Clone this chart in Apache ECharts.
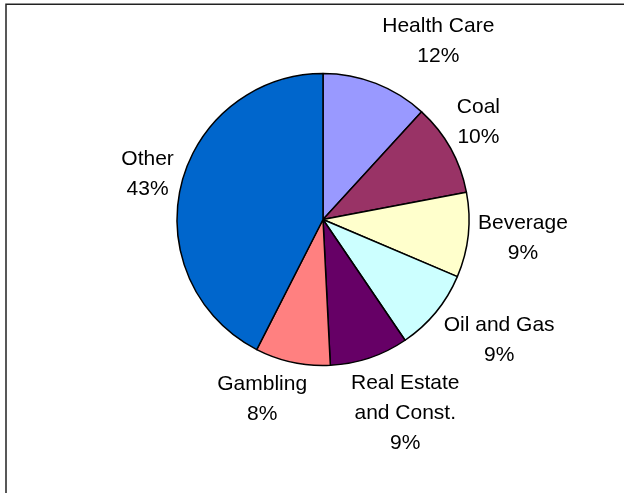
<!DOCTYPE html>
<html>
<head>
<meta charset="utf-8">
<script src="https://cdn.jsdelivr.net/npm/echarts@6/dist/echarts.min.js"></script>
<style>
html,body{margin:0;padding:0;background:#fff;}
#c{width:624px;height:493px;}
</style>
</head>
<body>
<div id="c"></div>
<script>
// ---- data ----
var categories = ['Health Care', 'Coal', 'Beverage', 'Oil and Gas', 'Real Estate\nand Const.', 'Gambling', 'Other'];
var shares = [11.8, 10.2, 9.4, 9.1, 8.7, 8.3, 42.5];

// ---- style / layout ----
var colors = ['#9999FF', '#993366', '#FFFFCC', '#CCFFFF', '#660066', '#FF8080', '#0066CC'];
var CX = 323, CY = 219.5, R = 146;
var FONT_SIZE = 21, LINE_H = 30, FONT_FAMILY = 'Liberation Sans, Arial, sans-serif';
// label placement tweaks: [angle nudge in degrees, gap from pie edge in px]
var labelAdjust = [[11.6, 14], [-3, 4], [-0.9, 9], [-5, 5], [-4.5, 5], [6.6, 5], [1.1, 4]];

var total = shares.reduce(function (a, b) { return a + b; }, 0);

// whole-number percentages summing to 100 (largest remainder), as the pie would show
function roundedPercents(vals) {
  var raw = vals.map(function (v) { return v / total * 100; });
  var fl = raw.map(Math.floor);
  var left = 100 - fl.reduce(function (a, b) { return a + b; }, 0);
  var order = raw.map(function (v, i) { return i; })
    .sort(function (a, b) { return (raw[b] - fl[b]) - (raw[a] - fl[a]); });
  for (var k = 0; k < left; k++) fl[order[k]] += 1;
  return fl;
}
var pct = roundedPercents(shares);

function midAngle(i) {
  var s = 0;
  for (var k = 0; k < i; k++) s += shares[k];
  return (s + shares[i] / 2) / total * 360;
}
function boxDist(D, ux, uy, hw, hh) {
  var dx = Math.max(Math.abs(D * ux) - hw, 0);
  var dy = Math.max(Math.abs(D * uy) - hh, 0);
  return Math.sqrt(dx * dx + dy * dy);
}

var mctx = document.createElement('canvas').getContext('2d');
mctx.font = FONT_SIZE + 'px ' + FONT_FAMILY;

var labelGraphics = categories.map(function (name, i) {
  var text = name + '\n' + pct[i] + '%';
  var lines = text.split('\n');
  var w = 0;
  lines.forEach(function (l) { w = Math.max(w, mctx.measureText(l).width); });
  var h = lines.length * LINE_H;
  var adj = labelAdjust[i];
  var a = (midAngle(i) + adj[0]) * Math.PI / 180;
  var ux = Math.sin(a), uy = -Math.cos(a);
  var target = R + adj[1];
  var lo = 0, hi = R + 400;
  for (var k = 0; k < 60; k++) {
    var m = (lo + hi) / 2;
    if (boxDist(m, ux, uy, w / 2, h / 2) < target) lo = m; else hi = m;
  }
  var D = (lo + hi) / 2;
  return {
    type: 'text',
    silent: true,
    x: CX + D * ux,
    y: CY + D * uy,
    style: {
      text: text,
      fill: '#000',
      font: FONT_SIZE + 'px ' + FONT_FAMILY,
      lineHeight: LINE_H,
      align: 'center',
      verticalAlign: 'middle'
    }
  };
});

var chart = echarts.init(document.getElementById('c'), null, { renderer: 'canvas' });
chart.setOption({
  animation: false,
  backgroundColor: '#fff',
  graphic: [{
    type: 'rect',
    silent: true,
    shape: { x: 6, y: 4.3, width: 800, height: 800 },
    style: { fill: 'none', stroke: '#222', lineWidth: 1.5 }
  }].concat(labelGraphics),
  series: [{
    type: 'pie',
    center: [CX, CY],
    radius: R,
    startAngle: 90,
    clockwise: true,
    data: categories.map(function (n, i) {
      return { name: n, value: shares[i], itemStyle: { color: colors[i] } };
    }),
    itemStyle: { borderColor: '#000', borderWidth: 1.5 },
    label: { show: false },
    labelLine: { show: false },
    emphasis: { disabled: true }
  }]
});
</script>
</body>
</html>
